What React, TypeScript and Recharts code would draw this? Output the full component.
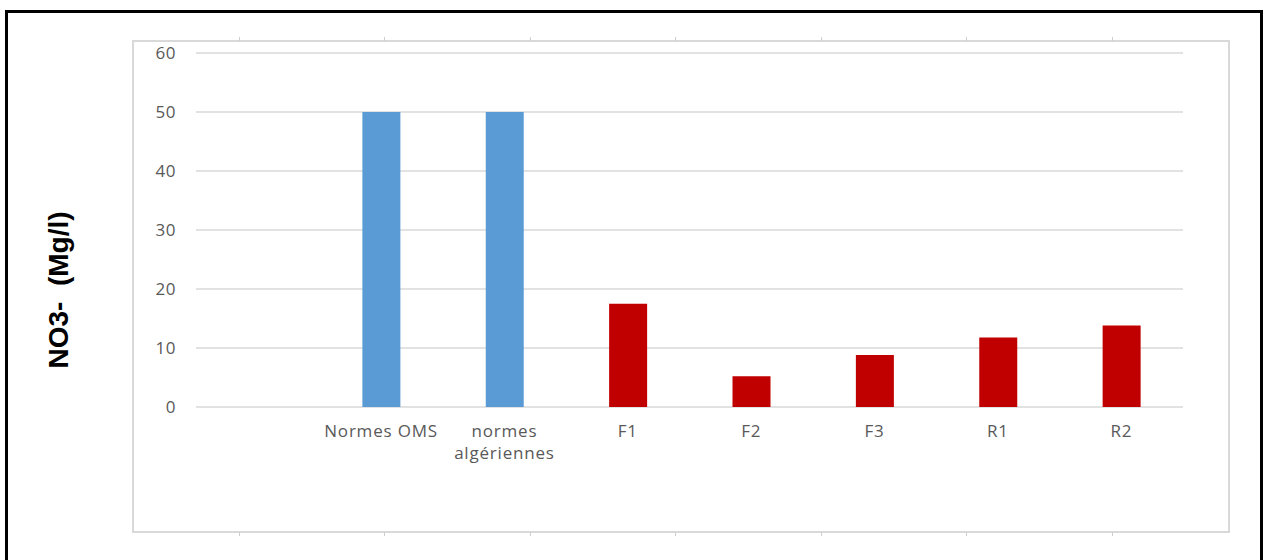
import React from "react";
import { BarChart, Bar, XAxis, YAxis, CartesianGrid, Cell } from "recharts";

// NO3- concentrations (mg/l): reference norms followed by the sampled sites
const categories = ["", "Normes OMS", "normes\nalgériennes", "F1", "F2", "F3", "R1", "R2"];
const no3Values = [null, 50, 50, 17.5, 5.2, 8.8, 11.8, 13.8];
const norms = ["Normes OMS", "normes\nalgériennes"];
const yTicks = [0, 10, 20, 30, 40, 50, 60];

const data = categories.map((name, i) => ({ name, value: no3Values[i] }));

const TEXT = "#595959";
const GRID = "#d9d9d9";
const BLUE = "#5B9BD5";
const RED = "#C00000";
const FONT = "'Open Sans', sans-serif";

function CategoryTick(props: any) {
  const { x, y, payload } = props;
  const lines = String(payload.value).split("\n");
  return (
    <text
      x={x}
      y={y}
      textAnchor="middle"
      fill={TEXT}
      fontFamily={FONT}
      fontSize={17}
      letterSpacing={0.8}
    >
      {lines.map((line, i) => (
        <tspan key={i} x={x} dy={22}>
          {line}
        </tspan>
      ))}
    </text>
  );
}

// frame tick marks along the inner box
const frameTicks = Array.from({ length: 7 }, (_, i) => 238.5 + i * 145.5);

export default function App() {
  return (
    <div
      style={{
        position: "absolute",
        left: 0,
        top: 0,
        width: 1264,
        height: 560,
        overflow: "hidden",
        background: "#fff",
      }}
    >
      <div
        style={{
          position: "absolute",
          left: 5,
          top: 10,
          width: 1258,
          height: 600,
          border: "3px solid #000",
          boxSizing: "border-box",
        }}
      />
      <div
        style={{
          position: "absolute",
          left: 132,
          top: 40,
          width: 1098,
          height: 493,
          border: `2px solid ${GRID}`,
          boxSizing: "border-box",
        }}
      />
      {frameTicks.map((x) => (
        <React.Fragment key={x}>
          <div style={{ position: "absolute", left: x, top: 37, width: 1, height: 4, background: "#cfcfcf" }} />
          <div style={{ position: "absolute", left: x, top: 532, width: 1, height: 4, background: "#cfcfcf" }} />
        </React.Fragment>
      ))}
      <div
        style={{
          position: "absolute",
          left: 59,
          top: 290,
          transform: "translate(-50%, -50%) rotate(-90deg)",
          whiteSpace: "pre",
          fontFamily: "'Liberation Sans', Arial, sans-serif",
          fontWeight: "bold",
          fontSize: 28,
          color: "#000",
        }}
      >
        {"NO3-  (Mg/l)"}
      </div>
      <BarChart
        width={1264}
        height={560}
        data={data}
        margin={{ top: 53, right: 81, bottom: 93, left: 0 }}
        style={{ position: "absolute", left: 0, top: 0 }}
      >
        <CartesianGrid vertical={false} stroke={GRID} strokeWidth={1.5} />
        <XAxis
          dataKey="name"
          axisLine={false}
          tickLine={false}
          interval={0}
          height={60}
          tick={<CategoryTick />}
        />
        <YAxis
          width={196}
          domain={[0, 60]}
          ticks={yTicks}
          axisLine={false}
          tickLine={false}
          tickSize={0}
          tickMargin={20}
          tick={{ fill: TEXT, fontFamily: FONT, fontSize: 17, letterSpacing: 0.5 }}
        />
        <Bar dataKey="value" barSize={38} isAnimationActive={false}>
          {data.map((d, i) => (
            <Cell key={i} fill={norms.includes(d.name) ? BLUE : RED} />
          ))}
        </Bar>
      </BarChart>
    </div>
  );
}
